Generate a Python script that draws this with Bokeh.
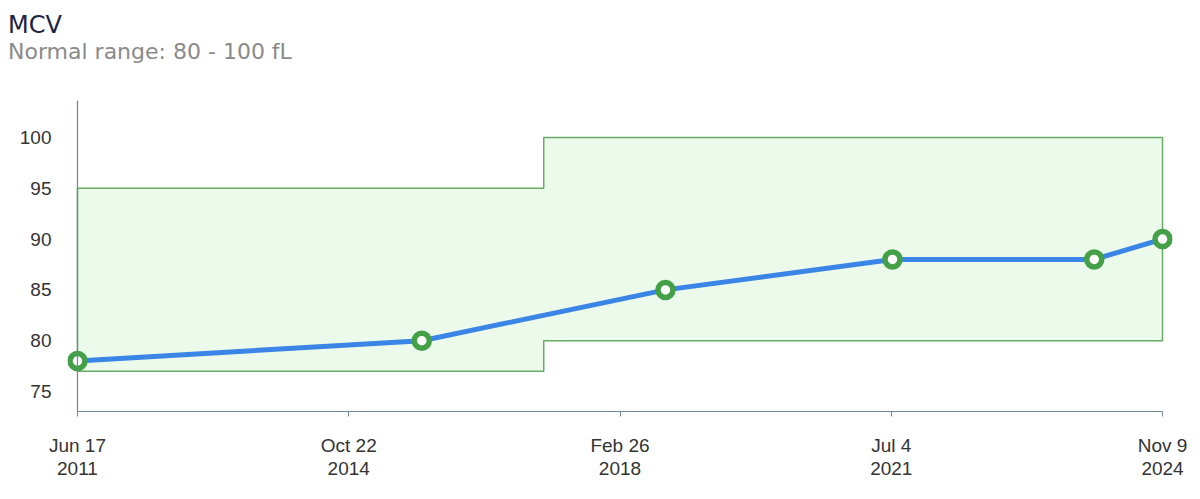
import pandas as pd
import numpy as np
from bokeh.plotting import figure
from bokeh.models import FixedTicker, Span, Range1d, Div
from bokeh.layouts import column
from bokeh.embed import file_html
from bokeh.resources import INLINE

# ---- data ----
dates = ["2011-06-17", "2015-09-17", "2018-09-20", "2021-07-10", "2024-01-06", "2024-11-09"]
mcv = [78, 80, 85, 88, 88, 90]

range_dates = ["2011-06-17", "2017-03-20", "2024-11-09"]
range_low = [77, 80]
range_high = [95, 100]

y_ticks = [75, 80, 85, 90, 95, 100]
x_tick_labels = ["Jun 17\n2011", "Oct 22\n2014", "Feb 26\n2018", "Jul 4\n2021", "Nov 9\n2024"]

title_text = "MCV"
subtitle_text = "Normal range: 80 - 100 fL"

# ---- conversions ----
def to_ms(s):
    return int(pd.Timestamp(s).value // 10**6)

x_ms = [to_ms(d) for d in dates]
r_ms = [to_ms(d) for d in range_dates]

DAY = 86400000
pad = 45 * DAY

header = Div(
    text=(
        f'<div style="font-family:\'DejaVu Sans\'; font-size:24px; line-height:28px; '
        f'color:#1c2340; margin:11px 0 0 8px; padding:0;">{title_text}</div>'
        f'<div style="font-family:\'DejaVu Sans\'; font-size:22px; line-height:26px; '
        f'color:#8a8a8a; margin:0 0 0 8px; padding:0;">{subtitle_text}</div>'
    ),
    width=1192, height=68, margin=0,
)

p = figure(width=1192, height=431, x_axis_type="datetime",
           x_range=Range1d(x_ms[0] - pad, x_ms[-1] + pad),
           y_range=Range1d(73.03, 103.64),
           output_backend="svg", toolbar_location=None, title=None,
           min_border_left=67, min_border_right=20, min_border_top=32, min_border_bottom=88,
           margin=0)
p.outline_line_color = None
p.grid.visible = False
p.background_fill_color = "white"
p.border_fill_color = "white"

# normal range band (polygon built from range arrays)
bx = [r_ms[0], r_ms[0], r_ms[1], r_ms[1], r_ms[2], r_ms[2], r_ms[1], r_ms[1]]
by = [range_low[0], range_high[0], range_high[0], range_high[1], range_high[1], range_low[1], range_low[1], range_low[0]]
p.patch(bx, by, fill_color="#ebfaea", line_color="#66ac66", line_width=1.5)

# y-axis line at first date
p.add_layout(Span(location=x_ms[0], dimension="height", line_color="#6f8399", line_width=1.2))

p.line(x_ms, mcv, line_color="#3a85e6", line_width=5)
p.scatter(x_ms, mcv, size=15, fill_color="white", line_color="#43a047", line_width=5.5)

# x axis
xticks = list(np.linspace(x_ms[0], x_ms[-1], len(x_tick_labels)).astype(np.int64).tolist())
xa = p.xaxis[0]
xa.ticker = FixedTicker(ticks=xticks)
xa.major_label_overrides = {t: lab for t, lab in zip(xticks, x_tick_labels)}
xa.bounds = (x_ms[0], x_ms[-1])
xa.axis_line_color = "#6f8399"
xa.major_tick_line_color = "#6f8399"
xa.major_tick_out = 5
xa.major_tick_in = 0
xa.minor_tick_line_color = None
xa.major_label_standoff = 18
xa.major_label_text_font = "Liberation Sans"
xa.major_label_text_font_size = "19px"
xa.major_label_text_line_height = 1.1
xa.major_label_text_color = "#333333"

ya = p.yaxis[0]
ya.ticker = FixedTicker(ticks=y_ticks)
ya.axis_line_color = None
ya.major_tick_line_color = None
ya.minor_tick_line_color = None
ya.major_label_standoff = 10
ya.major_label_text_font = "Liberation Sans"
ya.major_label_text_font_size = "19px"
ya.major_label_text_color = "#333333"

layout = column(header, p, spacing=0)
open("out.html", "w").write(file_html(layout, INLINE))
